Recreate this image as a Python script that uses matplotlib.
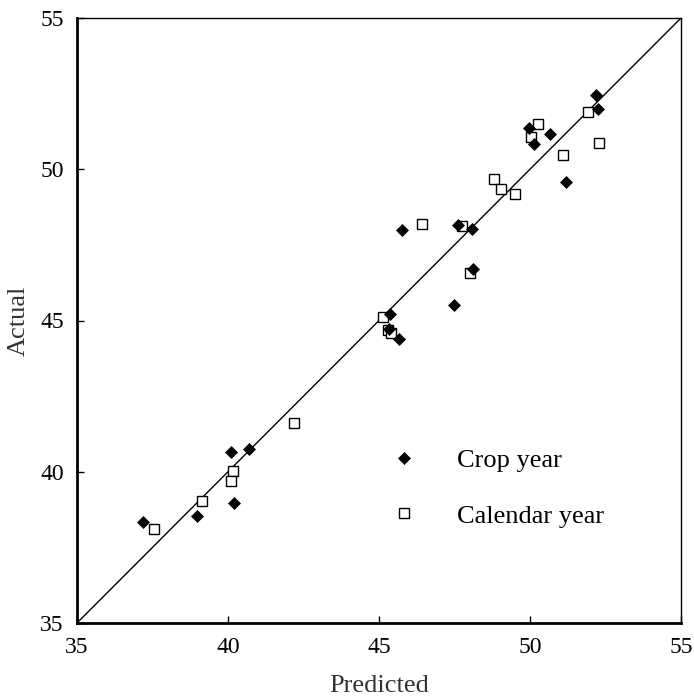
import matplotlib
matplotlib.use('Agg')
import matplotlib.pyplot as plt

plt.rcParams['font.family'] = ['Liberation Serif', 'DejaVu Serif']

# crop year: predicted vs actual
crop_pred = [37.19, 38.96, 40.09, 40.71, 40.20, 45.77, 47.63, 48.08, 48.10, 51.20,
             49.97, 50.12, 50.65, 52.18, 52.25, 47.48, 45.37, 45.33, 45.67]
crop_act = [38.35, 38.55, 40.64, 40.74, 38.97, 47.98, 48.16, 48.02, 46.70, 49.58,
            51.35, 50.83, 51.18, 52.44, 52.00, 45.51, 45.20, 44.71, 44.40]

# calendar year: predicted vs actual
cal_pred = [37.56, 39.13, 40.15, 40.09, 42.18, 46.41, 47.74, 48.01, 48.82, 49.03,
            49.50, 51.09, 52.28, 50.27, 50.02, 51.91, 45.13, 45.31, 45.39]
cal_act = [38.11, 39.02, 40.03, 39.70, 41.61, 48.18, 48.11, 46.58, 49.68, 49.34,
           49.19, 50.46, 50.87, 51.49, 51.05, 51.89, 45.12, 44.67, 44.59]

ticks = [35, 40, 45, 50, 55]

fig = plt.figure(figsize=(6.94, 6.98), dpi=100)
ax = fig.add_axes([77/694, 75/698, 604/694, 605/698])

ax.axline((35, 35), slope=1, color='black', lw=1.0, zorder=1)
ax.plot(crop_pred, crop_act, ls='none', marker='D', ms=6.2, mfc='black', mec='black',
        mew=0.5, label='Crop year', zorder=3)
ax.plot(cal_pred, cal_act, ls='none', marker='s', ms=7, mfc='white', mec='black',
        mew=1.0, label='Calendar year', zorder=2)

ax.set_xlim(35, 55)
ax.set_ylim(35, 55)
ax.set_xticks(ticks)
ax.set_yticks(ticks)
ax.tick_params(direction='in', length=5, width=1, labelsize=17)
ax.tick_params(axis='x', pad=10)
ax.tick_params(axis='y', pad=9.5)

for s in ['left', 'bottom']:
    ax.spines[s].set_linewidth(2)
for s in ['top', 'right']:
    ax.spines[s].set_linewidth(1)

ax.set_xlabel('Predicted', fontsize=19, color='#333333')
ax.set_ylabel('Actual', fontsize=19, color='#333333')
ax.xaxis.label.set_va('center')
ax.yaxis.label.set_va('center')
ax.xaxis.set_label_coords(0.5, -0.104)
ax.yaxis.set_label_coords(-0.096, 0.5)

ax.legend(loc='center left', bbox_to_anchor=(0.5195, 0.223), frameon=False,
          fontsize=19, handlelength=1, handletextpad=1.5, labelspacing=1.22,
          borderpad=0, borderaxespad=0, numpoints=1)

fig.savefig('out.png', dpi=100)
